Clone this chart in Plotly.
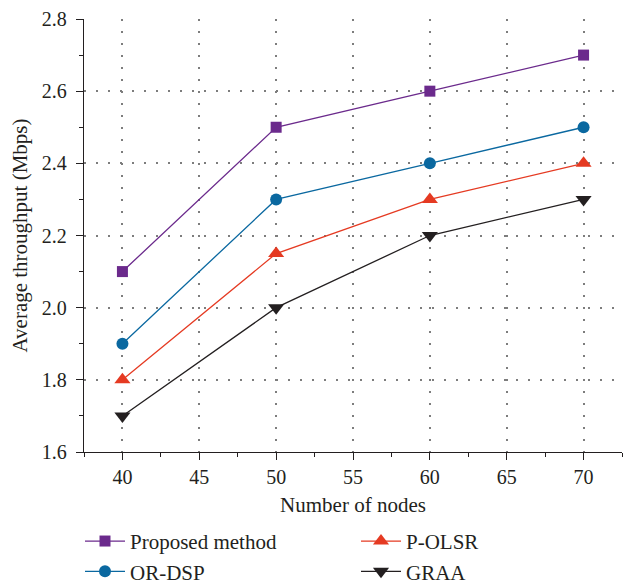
import plotly.graph_objects as go

nodes = [40, 50, 60, 70]
proposed = [2.1, 2.5, 2.6, 2.7]
or_dsp = [1.9, 2.3, 2.4, 2.5]
p_olsr = [1.8, 2.15, 2.3, 2.4]
graa = [1.7, 2.0, 2.2, 2.3]

x_ticks = [40, 45, 50, 55, 60, 65, 70]
y_ticks = [1.6, 1.8, 2.0, 2.2, 2.4, 2.6, 2.8]
y_grid = [1.8, 2.0, 2.2, 2.4, 2.6]

FONT = "Liberation Serif"
INK = "#231f20"

series = [
    ("Proposed method", proposed, "#6b2a8c", "square", 11),
    ("P-OLSR", p_olsr, "#e53a22", "triangle-up", 14),
    ("OR-DSP", or_dsp, "#0a68a0", "circle", 12),
    ("GRAA", graa, INK, "triangle-down", 14),
]

fig = go.Figure()
for name, vals, color, sym, size in series:
    fig.add_trace(go.Scatter(
        x=nodes, y=vals, name=name, mode="lines+markers",
        line=dict(color=color, width=1.3),
        marker=dict(symbol=sym, size=size, color=color, line=dict(width=0)),
    ))

GRID = dict(gridcolor="#7d7d7d", griddash="2px,10px", gridwidth=1.5)
tick_common = dict(ticks="outside", ticklen=7, tickwidth=1.2, tickcolor=INK,
                   ticklabeloverflow="allow", automargin=False,
                   tickfont=dict(family=FONT, size=20, color=INK))

fig.update_xaxes(
    range=[37.5, 72.5], tickvals=x_ticks,
    showline=True, linecolor=INK, linewidth=1.3, zeroline=False,
    showgrid=True, **GRID, **tick_common, ticklabelstandoff=0,
    minor=dict(dtick=2.5, tick0=37.5, ticks="outside", ticklen=4, tickcolor=INK, showgrid=False),
    title=dict(text="Number of nodes", font=dict(family=FONT, size=21, color=INK), standoff=10),
)
fig.update_layout(
    yaxis=dict(
        range=[1.6, 2.8], tickvals=y_ticks, tickformat=".1f",
        showline=True, linecolor=INK, linewidth=1.3, zeroline=False,
        showgrid=False, **tick_common, ticklabelstandoff=5,
        minor=dict(dtick=0.1, tick0=1.6, ticks="outside", ticklen=4, tickcolor=INK, showgrid=False),
        title=dict(text="Average throughput (Mbps)", font=dict(family=FONT, size=21, color=INK), standoff=10),
    ),
    yaxis2=dict(
        range=[1.6, 2.8], tickvals=y_grid, overlaying="y", side="left",
        showgrid=True, **GRID, showticklabels=False, ticks="", showline=False, zeroline=False,
    ),
)
# invisible helper trace so the grid axis is rendered
fig.add_trace(go.Scatter(x=[nodes[0]], y=[proposed[0]], yaxis="y2", mode="markers",
                         marker=dict(opacity=0), showlegend=False, hoverinfo="skip"))

fig.update_layout(
    width=624, height=593,
    margin=dict(l=76, r=10, t=11, b=148),
    paper_bgcolor="white", plot_bgcolor="white",
    font=dict(family=FONT, color=INK),
    showlegend=True,
    legend=dict(
        orientation="h", x=-0.006, xanchor="left", y=-0.32, yanchor="bottom",
        entrywidth=221, entrywidthmode="pixels",
        font=dict(family=FONT, size=21, color=INK),
        tracegroupgap=0, itemwidth=40, bgcolor="rgba(0,0,0,0)",
    ),
)

fig.write_html("out.html")
